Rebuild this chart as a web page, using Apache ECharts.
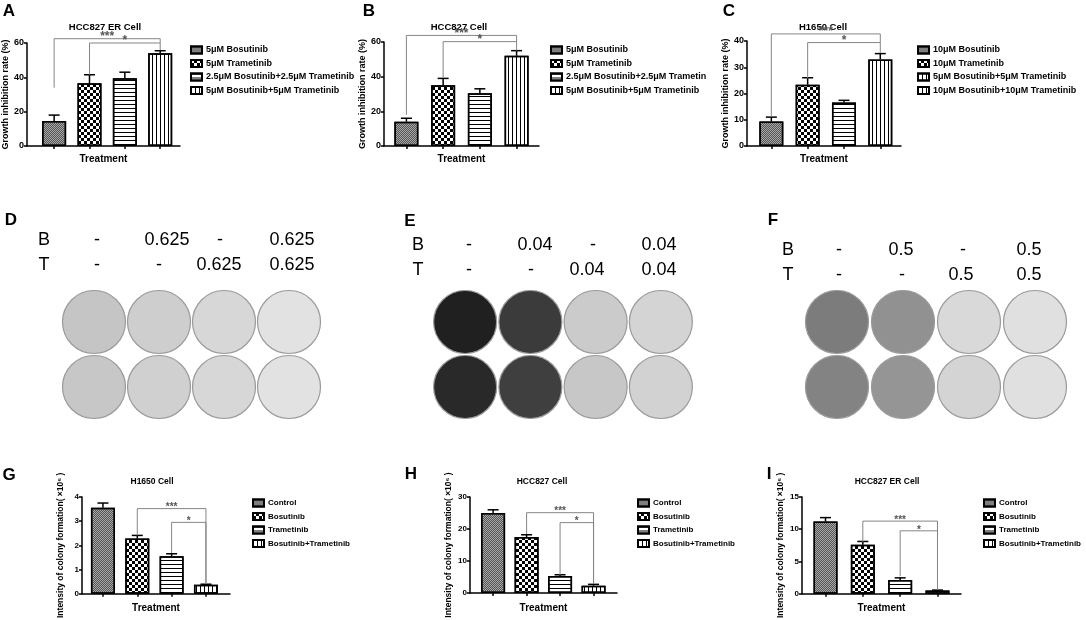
<!DOCTYPE html>
<html>
<head>
<meta charset="utf-8">
<script src="https://cdn.jsdelivr.net/npm/echarts@6/dist/echarts.min.js"></script>
<style>
    html, body { margin: 0; background: #fff; }
    #main { width: 1086px; height: 620px; }
</style>
</head>
<body>
<div id="main"></div>
<script>
const varFont = 'Liberation Sans';

// ---- growth inhibition rate (%) : panels A, B, C
const treatA = ['5μM Bosutinib', '5μM Trametinib', '2.5μM Bosutinib+2.5μM Trametinib', '5μM Bosutinib+5μM Trametinib'];
const meanA = [14.5, 36.5, 39.5, 54];
const errA = [3.5, 5, 3.5, 1.5];

const treatB = ['5μM Bosutinib', '5μM Trametinib', '2.5μM Bosutinib+2.5μM Trametin', '5μM Bosutinib+5μM Trametinib'];
const meanB = [14, 35, 30.5, 52];
const errB = [2, 4, 2.5, 3];

const treatC = ['10μM Bosutinib', '10μM Trametinib', '5μM Bosutinib+5μM Trametinib', '10μM Bosutinib+10μM Trametinib'];
const meanC = [9.3, 23.3, 16.6, 33];
const errC = [1.7, 2.7, 0.8, 2.2];

// ---- colony formation intensity (x10^6) : panels G, H, I
const groupsGHI = ['Control', 'Bosutinib', 'Trametinib', 'Bosutinib+Trametinib'];
const meanG = [3.55, 2.28, 1.55, 0.37];
const errG = [0.2, 0.13, 0.1, 0.02];
const meanH = [25, 17.5, 5.3, 2.3];
const errH = [1, 0.7, 0.4, 0.4];
const meanI = [11.2, 7.6, 2.1, 0.5];
const errI = [0.6, 0.5, 0.35, 0.05];

// significance brackets: [from bar, to bar, line level, left leg end, right leg end, mark]
const sigA = [[0, 3, 62.5, 34, 60, '***'], [1, 3, 60, 41.5, 56, '*']];
const sigB = [[0, 3, 63.8, 18, 60, '***'], [1, 3, 60.2, 39.4, 55, '*']];
const sigC = [[0, 3, 42.7, 11.2, 39.4, '***'], [1, 3, 39.4, 25.8, 35.5, '*']];
const sigG = [[1, 3, 3.52, 2.41, 0.41, '***'], [2, 3, 2.95, 1.68, 0.41, '*']];
const sigH = [[1, 3, 25.1, 18.4, 2.8, '***'], [2, 3, 22, 5.6, 2.8, '*']];
const sigI = [[1, 3, 11.26, 8.0, 0.65, '***'], [2, 3, 9.75, 2.7, 0.65, '*']];

// y axis ranges [max, step]
const yRangeA = [60, 20];
const yRangeB = [60, 20];
const yRangeC = [40, 10];
const yRangeG = [4, 1];
const yRangeH = [30, 10];
const yRangeI = [15, 5];

const panelTitles = ['HCC827 ER Cell', 'HCC827 Cell', 'H1650 Cell', 'H1650 Cell', 'HCC827 Cell', 'HCC827 ER Cell'];
const panelLetters = ['A', 'B', 'C', 'D', 'E', 'F', 'G', 'H', 'I'];

// ---- colony plates D, E, F (dose labels + approximate stained fraction per well)
const doseBD = ['-', '0.625', '-', '0.625'];
const doseTD = ['-', '-', '0.625', '0.625'];
const doseBE = ['-', '0.04', '-', '0.04'];
const doseTE = ['-', '-', '0.04', '0.04'];
const doseBF = ['-', '0.5', '-', '0.5'];
const doseTF = ['-', '-', '0.5', '0.5'];
const plateD = [[0.13, 0.09, 0.05, 0.0], [0.12, 0.08, 0.05, 0.0]];
const plateE = [[0.86, 0.74, 0.1, 0.06], [0.82, 0.72, 0.12, 0.07]];
const plateF = [[0.45, 0.36, 0.04, 0.01], [0.42, 0.34, 0.06, 0.01]];

//-----------------------------------------------------------------------------
const decalBase = { symbol: 'rect', symbolSize: 1, rotation: 0, color: '#000', maxTileWidth: 64, maxTileHeight: 64 };
const barStyles = [
    { color: '#a8a8a8', decal: Object.assign({}, decalBase, { color: '#555', dashArrayX: [[1, 1], [0, 1, 1, 0]], dashArrayY: [1, 0] }) },
    { color: '#ffffff', decal: Object.assign({}, decalBase, { dashArrayX: [[3, 3], [0, 3, 3, 0]], dashArrayY: [3, 0] }) },
    { color: '#ffffff', decal: Object.assign({}, decalBase, { dashArrayX: [1, 0], dashArrayY: [1, 2.5] }) },
    { color: '#ffffff', decal: Object.assign({}, decalBase, { dashArrayX: [1, 2.5], dashArrayY: [1, 0] }) },
];

const barLayout = [
    { left: 23, top: 43, right: 180, bottom: 146, xMin: -0.77, xMax: 3.56, legend: [190, 45], title: [105, 27], small: false },
    { left: 384, top: 42, right: 539, bottom: 146, xMin: -0.61, xMax: 3.61, legend: [550, 45], title: [459, 27], small: false },
    { left: 747, top: 41, right: 901, bottom: 146, xMin: -0.67, xMax: 3.57, legend: [917, 45], title: [823, 27], small: false },
    { left: 82, top: 497, right: 230, bottom: 597, xMin: -0.61, xMax: 3.7, legend: [252, 498], title: [152, 482], small: true },
    { left: 470, top: 497, right: 617, bottom: 593, xMin: -0.69, xMax: 3.7, legend: [637, 498], title: [542, 482], small: true },
    { left: 802, top: 497, right: 961, bottom: 596, xMin: -0.63, xMax: 3.63, legend: [983, 498], title: [887, 482], small: true },
];

const panels = [
    { names: treatA, mean: meanA, err: errA, sig: sigA, yr: yRangeA, yName: 'Growth inhibition rate (%)' },
    { names: treatB, mean: meanB, err: errB, sig: sigB, yr: yRangeB, yName: 'Growth inhibition rate (%)' },
    { names: treatC, mean: meanC, err: errC, sig: sigC, yr: yRangeC, yName: 'Growth inhibition rate (%)' },
    { names: groupsGHI, mean: meanG, err: errG, sig: sigG, yr: yRangeG, yName: 'Intensity of colony formation( ×10⁶ )' },
    { names: groupsGHI, mean: meanH, err: errH, sig: sigH, yr: yRangeH, yName: 'Intensity of colony formation( ×10⁶ )' },
    { names: groupsGHI, mean: meanI, err: errI, sig: sigI, yr: yRangeI, yName: 'Intensity of colony formation( ×10⁶ )' },
];

const plateLayout = [
    { plates: plateD, doseB: doseBD, doseT: doseTD, left: 61.5, width: 260, bx: [97, 167, 220, 292], tx: [97, 159, 219, 292], rowY: [240, 265], bt: 44 },
    { plates: plateE, doseB: doseBE, doseT: doseTE, left: 432.5, width: 261, bx: [469, 535, 593, 659], tx: [469, 531, 587, 659], rowY: [245, 270], bt: 418 },
    { plates: plateF, doseB: doseBF, doseT: doseTF, left: 804, width: 264, bx: [839, 901, 963, 1029], tx: [839, 902, 961, 1029], rowY: [250, 275], bt: 788 },
];

const letterPos = [[9, 11], [369, 11], [729, 11], [11, 220], [410, 221], [773, 220], [9, 475], [411, 474], [769, 474]];

//-----------------------------------------------------------------------------
function errorItem(params, api) {
    const x = api.value(0);
    const base = api.coord([x, api.value(1)]);
    const top = api.coord([x, api.value(2)]);
    return {
        type: 'group',
        children: [
            { type: 'line', shape: { x1: base[0], y1: base[1], x2: top[0], y2: top[1] }, style: { stroke: '#000', lineWidth: 1.5 } },
            { type: 'line', shape: { x1: top[0] - 5.5, y1: top[1], x2: top[0] + 5.5, y2: top[1] }, style: { stroke: '#000', lineWidth: 1.5 } },
        ]
    };
}

function bracketItem(sig, fontSize) {
    return function (params, api) {
        const s = sig[params.dataIndex];
        const pL = api.coord([s[0], s[2]]);
        const pR = api.coord([s[1], s[2]]);
        const l0 = api.coord([s[0], s[3]]);
        const r0 = api.coord([s[1], s[4]]);
        return {
            type: 'group',
            children: [
                { type: 'polyline', shape: { points: [l0, pL, pR, r0] }, style: { stroke: '#858585', lineWidth: 1, fill: null } },
                {
                    type: 'text',
                    style: {
                        text: s[5], x: (pL[0] + pR[0]) / 2, y: pL[1] + 4,
                        textAlign: 'center', textVerticalAlign: 'bottom',
                        font: `bold ${fontSize}px ${varFont}`, fill: '#555'
                    }
                }
            ]
        };
    };
}

function plateColor(c) {
    const g = Math.round(226 * (1 - c));
    return `rgb(${g},${g},${g})`;
}

let grids = [], xAxes = [], yAxes = [], legends = [], seriesItems = [], graphics = [];

panels.forEach((p, k) => {
    const L = barLayout[k];
    const lab = L.small ? 8 : 9;
    grids.push({ left: L.left, top: L.top, width: L.right - L.left, height: L.bottom - L.top });
    xAxes.push({
        gridIndex: k, type: 'value', min: L.xMin, max: L.xMax,
        name: 'Treatment', nameLocation: 'middle', nameGap: L.small ? 10 : 8,
        nameTextStyle: { fontFamily: varFont, fontWeight: 'bold', fontSize: 10, color: '#000', verticalAlign: 'top' },
        axisLine: { show: true, onZero: false, lineStyle: { color: '#000', width: 1.5 } },
        axisTick: { show: true, customValues: [0, 1, 2, 3], length: 3, lineStyle: { color: '#000', width: 1.5 } },
        axisLabel: { show: false },
        splitLine: { show: false },
    });
    yAxes.push({
        gridIndex: k, type: 'value', min: 0, max: p.yr[0], interval: p.yr[1],
        name: p.yName, nameLocation: 'middle', nameGap: L.small ? 17 : 11,
        nameTextStyle: { fontFamily: varFont, fontWeight: 'bold', fontSize: L.small ? 8.5 : 9, color: '#000' },
        axisLine: { show: true, onZero: false, lineStyle: { color: '#000', width: 1.5 } },
        axisTick: { show: true, length: 3, lineStyle: { color: '#000', width: 1.5 } },
        axisLabel: { fontFamily: varFont, fontWeight: 'bold', fontSize: lab, color: '#000', margin: 3 },
        splitLine: { show: false },
    });
    legends.push({
        left: L.legend[0], top: L.legend[1], orient: 'vertical', padding: 0,
        itemWidth: 11, itemHeight: 7, itemGap: 3.5, selectedMode: false, icon: 'rect',
        textStyle: { fontFamily: varFont, fontWeight: 'bold', fontSize: L.small ? 8 : 9, lineHeight: 10, color: '#000', padding: [0, 0, 0, -1] },
        data: p.names,
    });

    p.names.forEach((nm, i) => {
        seriesItems.push({
            name: nm, type: 'bar', xAxisIndex: k, yAxisIndex: k,
            barWidth: 24, barGap: '-100%', z: 3,
            itemStyle: Object.assign({ borderColor: '#000', borderWidth: 1.5 }, barStyles[i]),
            emphasis: { disabled: true },
            data: [[i, p.mean[i]]],
        });
    });
    seriesItems.push({
        type: 'custom', xAxisIndex: k, yAxisIndex: k, z: 1,
        renderItem: errorItem,
        data: p.mean.map((m, i) => [i, m, m + p.err[i]]),
    });
    seriesItems.push({
        type: 'custom', xAxisIndex: k, yAxisIndex: k, z: 2,
        renderItem: bracketItem(p.sig, L.small ? 10 : 12),
        data: p.sig.map((s) => [s[0], s[2]]),
    });

    graphics.push({
        type: 'text',
        style: {
            text: panelTitles[k], x: L.title[0], y: L.title[1], textAlign: 'center', textVerticalAlign: 'middle',
            font: `bold ${L.small ? 8.5 : 9.5}px ${varFont}`, fill: '#000'
        }
    });
});

plateLayout.forEach((P, j) => {
    const g = 6 + j;
    grids.push({ left: P.left, top: 289.5, width: P.width, height: 130 });
    xAxes.push({ gridIndex: g, type: 'category', data: ['1', '2', '3', '4'], show: false });
    yAxes.push({ gridIndex: g, type: 'category', data: ['1', '2'], inverse: true, show: false });
    let pts = [];
    P.plates.forEach((row, r) => {
        row.forEach((c, col) => {
            pts.push({ value: [col, r], itemStyle: { color: plateColor(c) } });
        });
    });
    seriesItems.push({
        type: 'scatter', xAxisIndex: g, yAxisIndex: g, symbolSize: 63,
        itemStyle: { borderColor: '#9a9a9a', borderWidth: 1.2, opacity: 1 },
        emphasis: { disabled: true },
        data: pts,
    });
    // dose rows
    [['B', P.doseB, P.bx, P.rowY[0]], ['T', P.doseT, P.tx, P.rowY[1]]].forEach((row) => {
        graphics.push({
            type: 'text',
            style: { text: row[0], x: P.bt, y: row[3], textAlign: 'center', textVerticalAlign: 'middle', font: `18px ${varFont}`, fill: '#000' }
        });
        row[1].forEach((t, i) => {
            graphics.push({
                type: 'text',
                style: { text: t, x: row[2][i], y: row[3], textAlign: 'center', textVerticalAlign: 'middle', font: `18px ${varFont}`, fill: '#000' }
            });
        });
    });
});

panelLetters.forEach((t, i) => {
    graphics.push({
        type: 'text',
        style: { text: t, x: letterPos[i][0], y: letterPos[i][1], textAlign: 'center', textVerticalAlign: 'middle', font: `bold 17px ${varFont}`, fill: '#000' }
    });
});

var option = {
    animation: false,
    aria: { enabled: true, decal: { show: true } },
    textStyle: { fontFamily: varFont },
    grid: grids,
    xAxis: xAxes,
    yAxis: yAxes,
    legend: legends,
    series: seriesItems,
    graphic: graphics,
};

var myChart = echarts.init(document.getElementById('main'));
myChart.setOption(option);
</script>
</body>
</html>
